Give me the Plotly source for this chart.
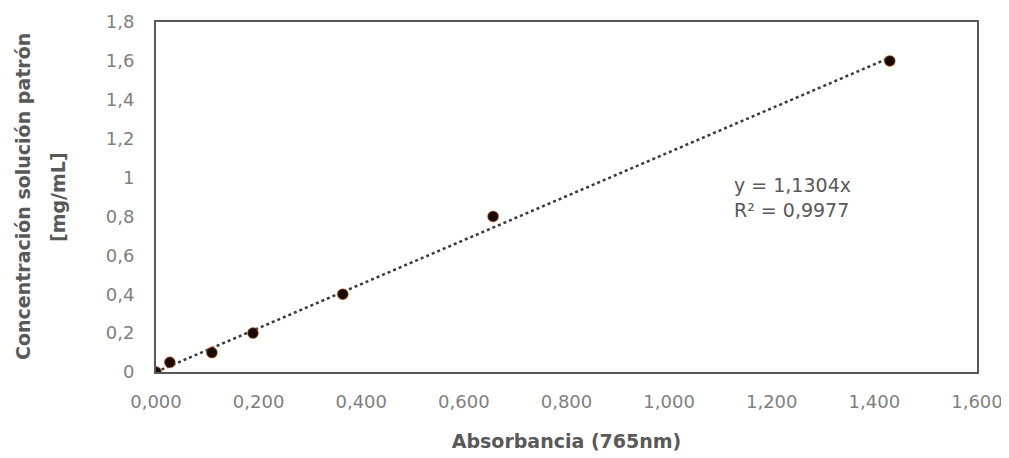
import plotly.graph_objects as go

absorbancia = [0.0, 0.027, 0.109, 0.189, 0.364, 0.657, 1.430]
concentracion = [0.0, 0.05, 0.1, 0.2, 0.4, 0.8, 1.6]
pendiente = 1.1304
r2 = 0.9977
x_ticks = [0, 0.2, 0.4, 0.6, 0.8, 1.0, 1.2, 1.4, 1.6]
x_ticktext = ["0,000", "0,200", "0,400", "0,600", "0,800", "1,000", "1,200", "1,400", "1,600"]
y_ticks = [0, 0.2, 0.4, 0.6, 0.8, 1.0, 1.2, 1.4, 1.6, 1.8]
y_ticktext = ["0", "0,2", "0,4", "0,6", "0,8", "1", "1,2", "1,4", "1,6", "1,8"]
y_title_lines = ["Concentración solución patrón", "[mg/mL]"]
x_title = "Absorbancia (765nm)"

gray = "#595959"
tickgray = "#7f7f7f"
font = "DejaVu Sans"

W, H = 1001, 450
ML, MR, MT, MB = 148, 32, 14, 86
plot_w = W - ML - MR

trend_x = [min(absorbancia), max(absorbancia)]
trend_y = [pendiente * v for v in trend_x]

fig = go.Figure()
fig.add_trace(go.Scatter(x=trend_x, y=trend_y, mode="lines",
                         line=dict(color="#3a3a3a", width=2.5, dash="dot"),
                         showlegend=False, hoverinfo="skip"))
fig.add_trace(go.Scatter(x=absorbancia, y=concentracion, mode="markers",
                         marker=dict(color="#1a0a04", size=11,
                                     line=dict(color="rgba(230,120,40,0.35)", width=1.5)),
                         showlegend=False))

fig.add_annotation(x=1.122, y=0.90, xref="x", yref="y", xanchor="left", yanchor="middle",
                   text=f"y = {str(pendiente).replace('.', ',')}x<br>R² = {str(r2).replace('.', ',')}",
                   showarrow=False, align="left",
                   font=dict(family=font, size=19, color=gray))

# two-line y-axis title (screen x positions of the line centres, relative to plot area left)
for line, px in zip(y_title_lines, [23, 58]):
    fig.add_annotation(x=(px - 8 - ML) / plot_w, y=0.5, xref="paper", yref="paper",
                       xanchor="center", yanchor="middle", textangle=-90,
                       text=f"<b>{line}</b>", showarrow=False,
                       font=dict(family=font, size=19, color=gray))

fig.update_layout(
    width=W, height=H,
    margin=dict(l=ML, r=MR, t=MT, b=MB),
    paper_bgcolor="white", plot_bgcolor="white",
    font=dict(family=font, color=tickgray, size=18),
    xaxis=dict(range=[0, 1.6], tickvals=x_ticks, ticktext=x_ticktext,
               showgrid=False, zeroline=False, showline=True, mirror=True,
               linecolor=gray, linewidth=2, ticks="", ticklabelstandoff=12,
               automargin=False,
               tickfont=dict(family=font, size=18, color=tickgray),
               title=dict(text=f"<b>{x_title}</b>", standoff=24,
                          font=dict(family=font, size=19, color=gray))),
    yaxis=dict(range=[0, 1.8], tickvals=y_ticks, ticktext=y_ticktext,
               showgrid=False, zeroline=False, showline=True, mirror=True,
               linecolor=gray, linewidth=2, ticks="", ticklabelstandoff=16,
               automargin=False,
               tickfont=dict(family=font, size=18, color=tickgray)),
)

fig.write_html("out.html")
